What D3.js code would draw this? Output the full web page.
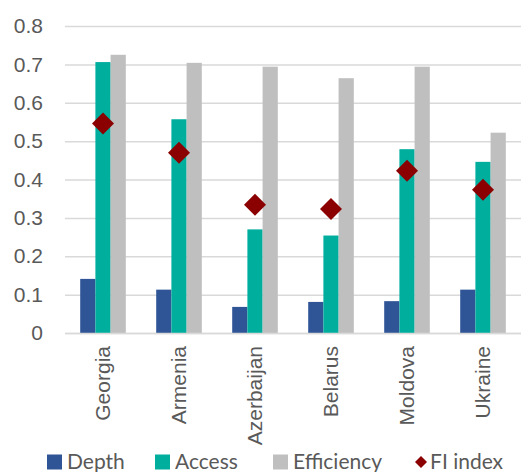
<!DOCTYPE html>
<html>
<head>
<meta charset="utf-8">
<script src="https://cdn.jsdelivr.net/npm/d3@7"></script>
<style>
  html, body { margin: 0; padding: 0; background: #fff; }
  svg { display: block; font-family: Lato, "Open Sans", sans-serif; }
</style>
</head>
<body>
<svg id="chart" width="521" height="472"></svg>
<script>
const countries = ["Georgia", "Armenia", "Azerbaijan", "Belarus", "Moldova", "Ukraine"];
const seriesNames = ["Depth", "Access", "Efficiency"];
const depth = [0.141, 0.113, 0.068, 0.081, 0.083, 0.113];
const access = [0.706, 0.557, 0.270, 0.254, 0.479, 0.446];
const efficiency = [0.725, 0.704, 0.694, 0.664, 0.694, 0.522];
const fiIndex = [0.546, 0.470, 0.334, 0.323, 0.423, 0.373];
const yTicks = [0, 0.1, 0.2, 0.3, 0.4, 0.5, 0.6, 0.7, 0.8];
const colors = { Depth: "#2F5597", Access: "#00AE9D", Efficiency: "#BFBFBF", FI: "#8B0000" };

const seriesValues = { Depth: depth, Access: access, Efficiency: efficiency };

const svg = d3.select("#chart");
const pLeft = 65, pRight = 521, pTop = 26, pBottom = 333;
const fs = 21;

const x0 = d3.scaleBand().domain(countries).range([pLeft, pRight]).padding(0);
const x1 = d3.scaleBand().domain(seriesNames)
  .range([x0.bandwidth() * 0.2, x0.bandwidth() * 0.8]).padding(0);
const y = d3.scaleLinear().domain([0, 0.8]).range([pBottom, pTop]);

// gridlines
const yAxis = d3.axisLeft(y).tickValues(yTicks)
  .tickFormat(d => d === 0 ? "0" : d3.format(".1f")(d))
  .tickSize(-(pRight - pLeft)).tickPadding(22);
const gy = svg.append("g").attr("transform", `translate(${pLeft},0)`).call(yAxis);
gy.select(".domain").remove();
gy.selectAll(".tick line").attr("stroke", "#D9D9D9").attr("stroke-width", 1.5);
gy.selectAll(".tick text").attr("fill", "#595959").attr("font-size", fs)
  .attr("x", -22).attr("text-anchor", "end");

// bars
const groups = svg.append("g").selectAll("g").data(countries).join("g")
  .attr("transform", d => `translate(${x0(d)},0)`);
groups.selectAll("rect")
  .data((c, i) => seriesNames.map(s => ({ s, v: seriesValues[s][i] })))
  .join("rect")
  .attr("x", d => x1(d.s))
  .attr("width", x1.bandwidth())
  .attr("y", d => y(d.v))
  .attr("height", d => y(0) - y(d.v))
  .attr("fill", d => colors[d.s]);

// x axis
const xAxis = d3.axisBottom(x0).tickSize(0).tickPadding(0);
const gx = svg.append("g").attr("transform", `translate(0,${pBottom})`).call(xAxis);
gx.select(".domain").attr("stroke", "#D9D9D9").attr("stroke-width", 1.5);
gx.selectAll(".tick text")
  .attr("fill", "#595959").attr("font-size", fs)
  .attr("transform", "rotate(-90)")
  .attr("text-anchor", "end")
  .attr("x", -13).attr("y", 0).attr("dy", "0.35em");

// FI index diamonds
const diamond = d3.symbol().type(d3.symbolSquare).size(242);
svg.append("g").selectAll("path").data(countries).join("path")
  .attr("d", diamond)
  .attr("transform", (c, i) => `translate(${x0(c) + x0.bandwidth() / 2},${y(fiIndex[i])}) rotate(45)`)
  .attr("fill", colors.FI);

// legend
const legendItems = [
  { name: "Depth", key: "Depth", x: 47 },
  { name: "Access", key: "Access", x: 155 },
  { name: "Efficiency", key: "Efficiency", x: 273 },
  { name: "FI index", key: "FI", x: 414 }
];
const lg = svg.append("g");
const ly = 462;
legendItems.forEach(it => {
  if (it.key === "FI") {
    lg.append("path").attr("d", d3.symbol().type(d3.symbolSquare).size(72)())
      .attr("transform", `translate(${it.x + 7},${ly}) rotate(45)`)
      .attr("fill", colors.FI);
    lg.append("text").attr("x", it.x + 16).attr("y", ly).attr("dy", "0.35em")
      .attr("fill", "#595959").attr("font-size", fs).text(it.name);
  } else {
    lg.append("rect").attr("x", it.x).attr("y", ly - 7.5).attr("width", 15).attr("height", 15)
      .attr("fill", colors[it.key]);
    lg.append("text").attr("x", it.x + 20).attr("y", ly).attr("dy", "0.35em")
      .attr("fill", "#595959").attr("font-size", fs).text(it.name);
  }
});
</script>
</body>
</html>
